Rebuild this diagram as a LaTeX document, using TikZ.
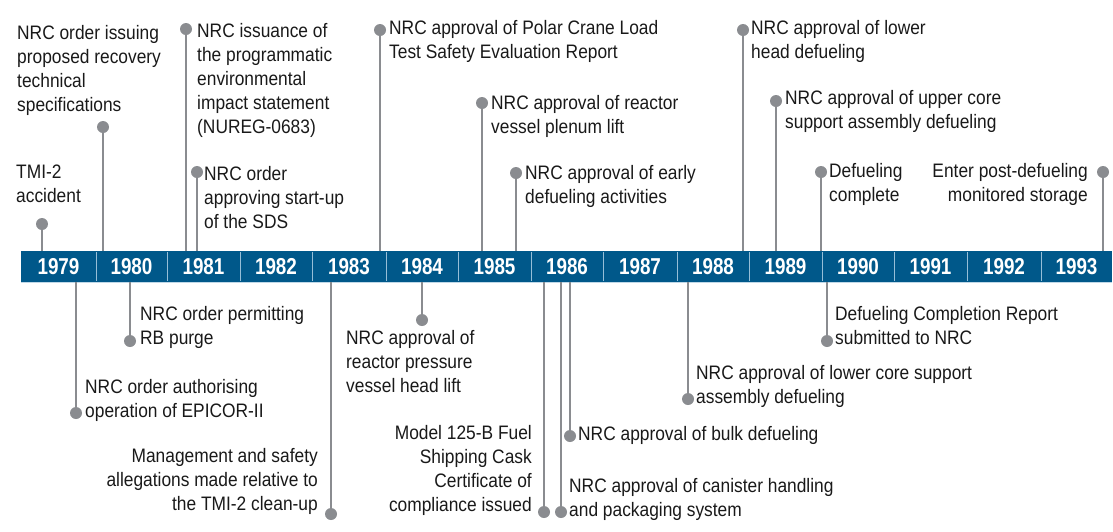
\documentclass[tikz,border=0pt]{standalone}
\usepackage{fontspec}
\setmainfont{Liberation Sans}[FakeStretch=0.89]
\newfontfamily\yearfont{Liberation Sans}[FakeStretch=0.82]

\definecolor{barblue}{RGB}{0,88,138}
\definecolor{barline}{RGB}{150,190,215}
\definecolor{pingray}{RGB}{138,140,144}
\definecolor{txt}{RGB}{25,25,25}

\tikzset{
  year/.style={text=white, font=\yearfont\bfseries\fontsize{23}{23}\selectfont, inner sep=0pt},
  dot/.style={circle, fill=pingray, inner sep=0pt, minimum size=12pt},
  pin/.style={draw=pingray, line width=2pt},
  lbl/.style={text=txt, font=\fontsize{19.5}{24}\selectfont, inner sep=0pt, align=left, anchor=base west},
  lblr/.style={lbl, align=right, anchor=base east}
}

\begin{document}
\begin{tikzpicture}[x=1pt, y=-1pt]
  \useasboundingbox (0,0) rectangle (1113,531);

  % time bar
  \fill[barblue] (21,251) rectangle (1112,282);
  \draw[barline, line width=0.8pt]
    (96,252) -- (96,281)  (167,252) -- (167,281)  (240,252) -- (240,281)
    (312,252) -- (312,281)  (386,252) -- (386,281)  (458,252) -- (458,281)
    (531,252) -- (531,281)  (603,252) -- (603,281)  (677,252) -- (677,281)
    (749,252) -- (749,281)  (822,252) -- (822,281)  (894,252) -- (894,281)
    (967,252) -- (967,281)  (1041,252) -- (1041,281);
  \draw[barline!60, line width=0.6pt] (21,282) -- (1112,282);
  \node[year] (y1979) at (58.5,267) {1979};
  \node[year] (y1980) at (131.5,267) {1980};
  \node[year] (y1981) at (203.5,267) {1981};
  \node[year] (y1982) at (276,267) {1982};
  \node[year] (y1983) at (349,267) {1983};
  \node[year] (y1984) at (422,267) {1984};
  \node[year] (y1985) at (494.5,267) {1985};
  \node[year] (y1986) at (567,267) {1986};
  \node[year] (y1987) at (640,267) {1987};
  \node[year] (y1988) at (713,267) {1988};
  \node[year] (y1989) at (785.5,267) {1989};
  \node[year] (y1990) at (858,267) {1990};
  \node[year] (y1991) at (930.5,267) {1991};
  \node[year] (y1992) at (1004,267) {1992};
  \node[year] (y1993) at (1076.5,267) {1993};

  % events above the bar
  \coordinate (a1) at (42,251);   \node[dot] (d1) at (42,224) {};
  \coordinate (a2) at (103,251);  \node[dot] (d2) at (103,127) {};
  \coordinate (a3) at (186,251);  \node[dot] (d3) at (186,29) {};
  \coordinate (a4) at (197,251);  \node[dot] (d4) at (197,172) {};
  \coordinate (a5) at (380,251);  \node[dot] (d5) at (380,30) {};
  \coordinate (a6) at (482,251);  \node[dot] (d6) at (482,103) {};
  \coordinate (a7) at (516,251);  \node[dot] (d7) at (516,173) {};
  \coordinate (a8) at (743,251);  \node[dot] (d8) at (743,30) {};
  \coordinate (a9) at (776,251);  \node[dot] (d9) at (776,101) {};
  \coordinate (a10) at (821,251); \node[dot] (d10) at (821,172) {};
  \coordinate (a11) at (1103,251);\node[dot] (d11) at (1103,172) {};

  % events below the bar
  \coordinate (a12) at (76,282);  \node[dot] (d12) at (76,413) {};
  \coordinate (a13) at (130,282); \node[dot] (d13) at (130,341) {};
  \coordinate (a14) at (331,282); \node[dot] (d14) at (331,514) {};
  \coordinate (a15) at (422,282); \node[dot] (d15) at (422,320) {};
  \coordinate (a16) at (544,282); \node[dot] (d16) at (544,512) {};
  \coordinate (a17) at (561,282); \node[dot] (d17) at (561,512) {};
  \coordinate (a18) at (570,282); \node[dot] (d18) at (570,436) {};
  \coordinate (a19) at (688,282); \node[dot] (d19) at (688,399) {};
  \coordinate (a20) at (827,282); \node[dot] (d20) at (827,341) {};

  \begin{scope}[pin]
    \draw (d1) -- (a1);
    \draw (d2) -- (a2);
    \draw (d3) -- (a3);
    \draw (d4) -- (a4);
    \draw (d5) -- (a5);
    \draw (d6) -- (a6);
    \draw (d7) -- (a7);
    \draw (d8) -- (a8);
    \draw (d9) -- (a9);
    \draw (d10) -- (a10);
    \draw (d11) -- (a11);
    \draw (d12) -- (a12);
    \draw (d13) -- (a13);
    \draw (d14) -- (a14);
    \draw (d15) -- (a15);
    \draw (d16) -- (a16);
    \draw (d17) -- (a17);
    \draw (d18) -- (a18);
    \draw (d19) -- (a19);
    \draw (d20) -- (a20);
  \end{scope}

  % labels (placed at the baseline of their last line)
  \node[lbl] (t1) at (16,202) {TMI-2\\accident};
  \node[lbl] (t2) at (17,111) {NRC order issuing\\proposed recovery\\technical\\specifications};
  \node[lbl] (t3) at (197,133) {NRC issuance of\\the programmatic\\environmental\\impact statement\\(NUREG-0683)};
  \node[lbl] (t4) at (204,228) {NRC order\\approving start-up\\of the SDS};
  \node[lbl] (t5) at (389,58) {NRC approval of Polar Crane Load\\Test Safety Evaluation Report};
  \node[lbl] (t6) at (491,133) {NRC approval of reactor\\vessel plenum lift};
  \node[lbl] (t7) at (525,203) {NRC approval of early\\defueling activities};
  \node[lbl] (t8) at (751,58) {NRC approval of lower\\head defueling};
  \node[lbl] (t9) at (785,128) {NRC approval of upper core\\support assembly defueling};
  \node[lbl] (t10) at (829,201) {Defueling\\complete};
  \node[lblr] (t11) at (1088,201) {Enter post-defueling\\monitored storage};
  \node[lbl] (t12) at (85,417) {NRC order authorising\\operation of EPICOR-II};
  \node[lbl] (t13) at (140,344) {NRC order permitting\\RB purge};
  \node[lblr] (t14) at (318,510) {Management and safety\\allegations made relative to\\the TMI-2 clean-up};
  \node[lbl] (t15) at (346,392) {NRC approval of\\reactor pressure\\vessel head lift};
  \node[lblr] (t16) at (532,511) {Model 125-B Fuel\\Shipping Cask\\Certificate of\\compliance issued};
  \node[lbl] (t17) at (569,516) {NRC approval of canister handling\\and packaging system};
  \node[lbl] (t18) at (578,440) {NRC approval of bulk defueling};
  \node[lbl] (t19) at (696,403) {NRC approval of lower core support\\assembly defueling};
  \node[lbl] (t20) at (835,344) {Defueling Completion Report\\submitted to NRC};
\end{tikzpicture}
\end{document}
